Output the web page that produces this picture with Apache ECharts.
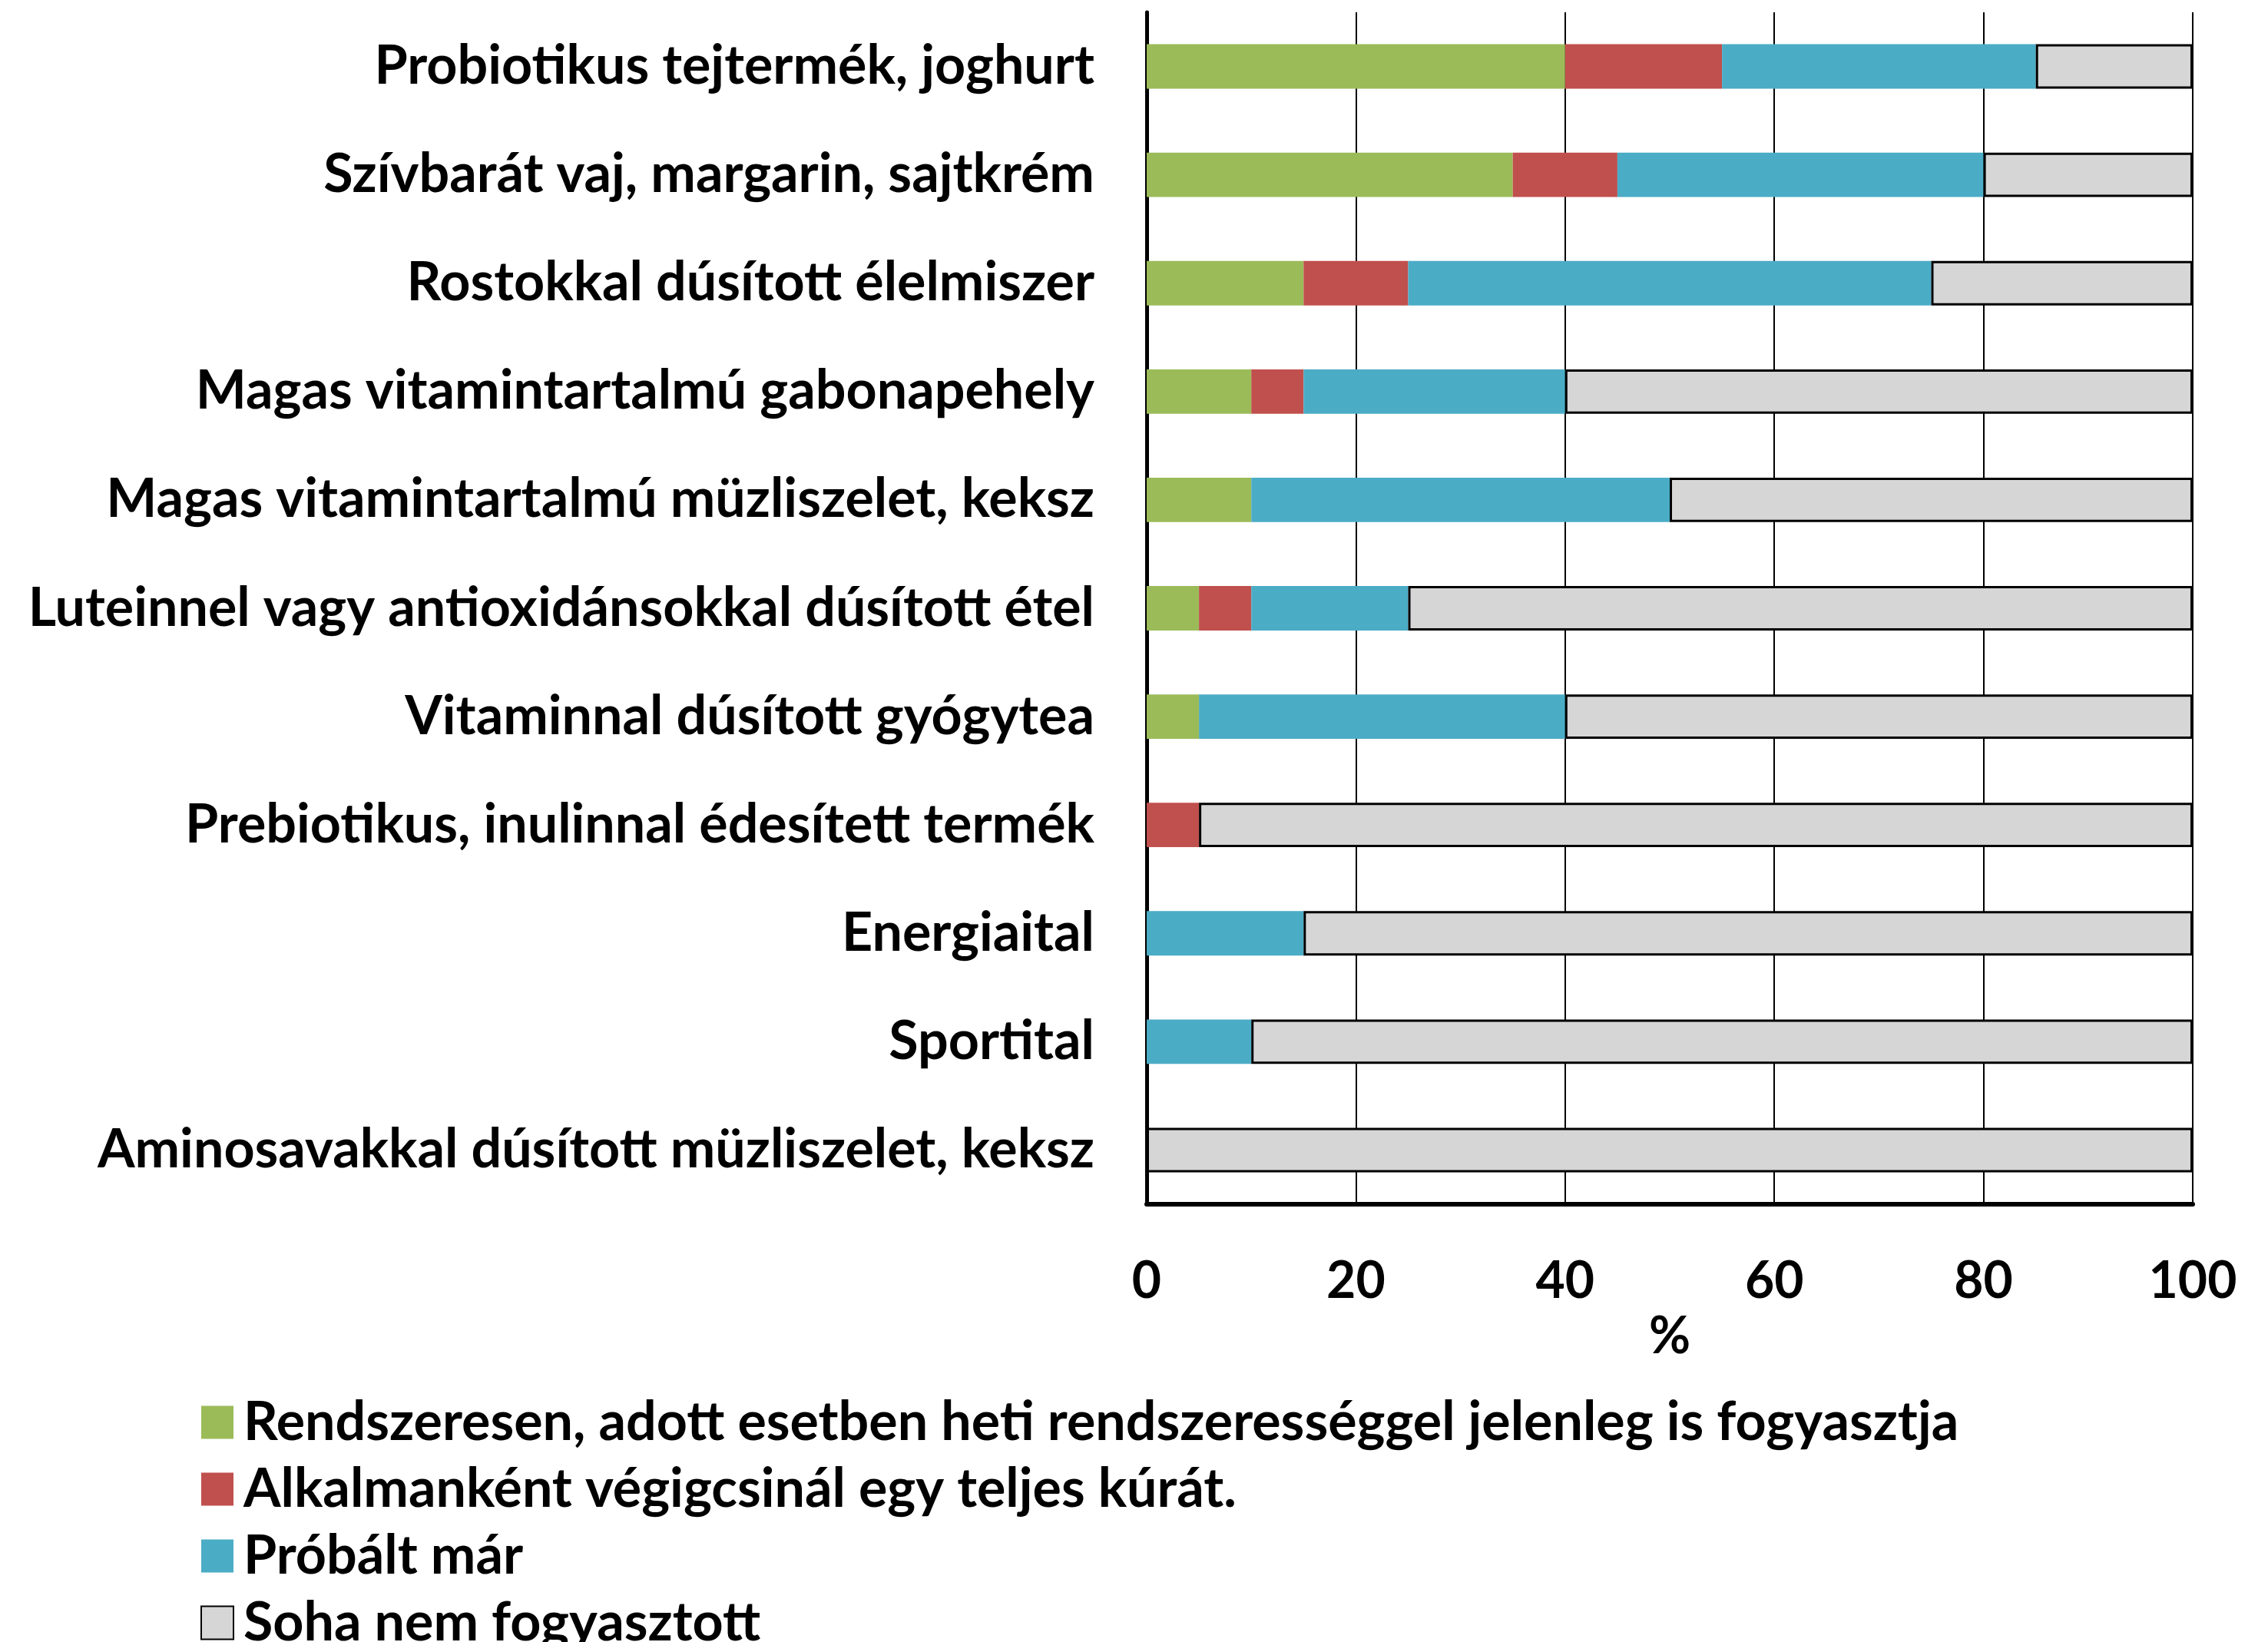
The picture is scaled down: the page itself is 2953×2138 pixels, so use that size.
<!DOCTYPE html>
<html>
<head>
<meta charset="utf-8">
<script src="https://cdn.jsdelivr.net/npm/echarts@6/dist/echarts.min.js"></script>
<style>
  html, body { margin: 0; padding: 0; background: #fff; }
  #chart { width: 2953px; height: 2138px; }
</style>
</head>
<body>
<div id="chart"></div>
<script>
// termékkategóriák, felülről lefelé
const categories = [
  'Probiotikus tejtermék, joghurt',
  'Szívbarát vaj, margarin, sajtkrém',
  'Rostokkal dúsított élelmiszer',
  'Magas vitamintartalmú gabonapehely',
  'Magas vitamintartalmú müzliszelet, keksz',
  'Luteinnel vagy antioxidánsokkal dúsított étel',
  'Vitaminnal dúsított gyógytea',
  'Prebiotikus, inulinnal édesített termék',
  'Energiaital',
  'Sportital',
  'Aminosavakkal dúsított müzliszelet, keksz'
];

// százalékos értékek (%)
const rendszeresen = [40, 35, 15, 10, 10, 5, 5, 0, 0, 0, 0];
const alkalmankent = [15, 10, 10, 5, 0, 5, 0, 5, 0, 0, 0];
const probalt      = [30, 35, 50, 25, 40, 15, 35, 0, 15, 10, 0];
const soha         = [15, 20, 25, 60, 50, 75, 60, 95, 85, 90, 100];

const xTicks = [0, 20, 40, 60, 80, 100];

const seriesNames = [
  'Rendszeresen, adott esetben heti rendszerességgel jelenleg is fogyasztja',
  'Alkalmanként végigcsinál egy teljes kúrát.',
  'Próbált már',
  'Soha nem fogyasztott'
];

const font = 'Lato, "Open Sans", sans-serif';

function barSeries(name, data, color, border) {
  return {
    name: name,
    type: 'bar',
    stack: 'total',
    barCategoryGap: '59%',
    data: data,
    itemStyle: border
      ? { color: color, borderColor: '#000', borderWidth: 3 }
      : { color: color },
    emphasis: { disabled: true }
  };
}

const myChart = echarts.init(document.getElementById('chart'));
myChart.setOption({
  animation: false,
  backgroundColor: '#fff',
  grid: { left: 1493, right: 98, top: 16, bottom: 570, containLabel: false },
  legend: {
    orient: 'vertical',
    left: 256,
    top: 1812,
    height: 600,
    itemWidth: 42,
    itemHeight: 43,
    itemGap: 17,
    icon: 'rect',
    textStyle: { fontFamily: font, fontWeight: 'bold', fontSize: 70, color: '#000', padding: [0, 0, 0, 8] },
    data: seriesNames
  },
  xAxis: {
    type: 'value',
    min: 0,
    max: 100,
    interval: 20,
    name: '%',
    nameLocation: 'middle',
    nameGap: 140,
    nameTextStyle: { fontFamily: font, fontWeight: 'bold', fontSize: 66, color: '#000' },
    axisLine: { show: true, onZero: false, lineStyle: { color: '#000', width: 6 } },
    axisTick: { show: false },
    axisLabel: {
      margin: 68,
      fontFamily: font, fontWeight: 'bold', fontSize: 66, color: '#000',
      formatter: v => xTicks.includes(v) ? String(v) : ''
    },
    splitLine: { show: true, lineStyle: { color: '#000', width: 2 } }
  },
  yAxis: {
    type: 'category',
    inverse: true,
    data: categories,
    axisLine: { show: true, lineStyle: { color: '#000', width: 5 } },
    axisTick: { show: false },
    axisLabel: { margin: 68, fontFamily: font, fontWeight: 'bold', fontSize: 70, color: '#000' },
    splitLine: { show: false }
  },
  series: [
    barSeries(seriesNames[0], rendszeresen, '#9BBB59', false),
    barSeries(seriesNames[1], alkalmankent, '#C0504D', false),
    barSeries(seriesNames[2], probalt, '#4BACC6', false),
    barSeries(seriesNames[3], soha, '#D6D6D6', true)
  ]
});
window.addEventListener('resize', function () { myChart.resize(); });
</script>
</body>
</html>
